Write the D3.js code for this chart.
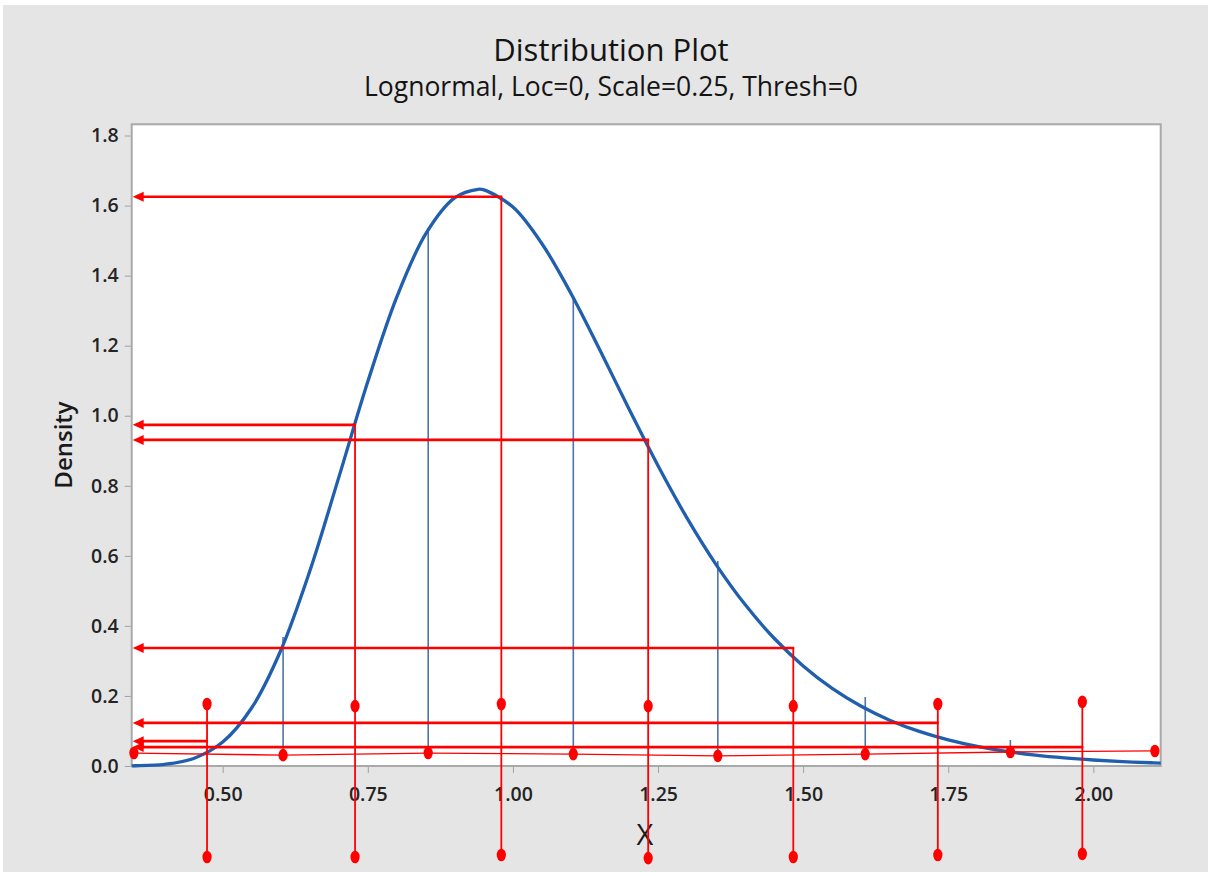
<!DOCTYPE html>
<html>
<head>
<meta charset="utf-8">
<script src="https://cdn.jsdelivr.net/npm/d3@7"></script>
<style>
  body { margin: 0; background: #fff; }
  svg { display: block; font-family: "Open Sans", "Noto Sans", sans-serif; }
</style>
</head>
<body>
<svg id="chart" width="1213" height="876"></svg>
<script>
// Tick values
const xTicks = [0.50, 0.75, 1.00, 1.25, 1.50, 1.75, 2.00];
const yTicks = [0.0, 0.2, 0.4, 0.6, 0.8, 1.0, 1.2, 1.4, 1.6, 1.8];

// Density curve
const curveX = [0.3432, 0.35, 0.40, 0.45, 0.50, 0.55, 0.60, 0.65, 0.70, 0.75, 0.80, 0.85, 0.90, 0.94, 0.95,
  1.00, 1.05, 1.10, 1.15, 1.20, 1.25, 1.30, 1.35, 1.40, 1.45, 1.50, 1.55, 1.60, 1.65, 1.70,
  1.75, 1.80, 1.85, 1.90, 1.95, 2.00, 2.05, 2.10, 2.116];
const curveY = [0.0005, 0.0007, 0.0048, 0.0216, 0.0683, 0.1663, 0.3298, 0.5563, 0.8240, 1.0974, 1.3393, 1.5198, 1.6224, 1.6464, 1.6448,
  1.5958, 1.4911, 1.3490, 1.1869, 1.0193, 0.8572, 0.7077, 0.5751, 0.4608, 0.3647, 0.2856, 0.2215, 0.1704, 0.1301, 0.0987,
  0.0745, 0.0559, 0.0418, 0.0311, 0.0231, 0.0171, 0.0126, 0.0093, 0.0082];

// Blue drop lines
const blueX = [0.604, 0.854, 1.104, 1.353, 1.607, 1.857];
const blueTop = [0.368, 1.536, 1.342, 0.585, 0.197, 0.074];
const blueBase = [0.031, 0.037, 0.037, 0.031, 0.037, 0.040];

// Thin red line through the base dots
const baseDotX = [0.347, 0.604, 0.854, 1.104, 1.353, 1.607, 1.857, 2.106];
const baseDotY = [0.037, 0.031, 0.037, 0.034, 0.029, 0.034, 0.040, 0.043];

// Red sample lines: x position, arrow level, top dot, bottom dot
const sampleX = [0.473, 0.728, 0.980, 1.233, 1.483, 1.732, 1.981];
const arrowY = [0.071, 0.974, 1.625, 0.931, 0.337, 0.123, 0.054];
const topDotY = [0.177, 0.171, 0.177, 0.171, 0.171, 0.177, 0.183];
const bottomDotY = [-0.260, -0.260, -0.254, -0.263, -0.260, -0.254, -0.251];

const svg = d3.select('#chart');

const plotLeft = 131.7, plotRight = 1160.7, plotTop = 124.3, plotBottom = 766;

const x = d3.scaleLinear().domain([0.3432, 2.116]).range([plotLeft, plotRight]);
const y = d3.scaleLinear().domain([0, 1.832]).range([plotBottom, plotTop]);

// Backgrounds
svg.append('rect').attr('x', 3).attr('y', 5).attr('width', 1205).attr('height', 867).attr('fill', '#e5e5e5');
svg.append('rect').attr('x', plotLeft).attr('y', plotTop)
  .attr('width', plotRight - plotLeft).attr('height', plotBottom - plotTop)
  .attr('fill', '#fff').attr('stroke', '#a9a9a9').attr('stroke-width', 2);

// Titles
svg.append('text').attr('x', 611).attr('y', 61).attr('text-anchor', 'middle')
  .attr('font-size', '31px').attr('fill', '#141414').text('Distribution Plot');
svg.append('text').attr('x', 611).attr('y', 96).attr('text-anchor', 'middle')
  .attr('font-size', '26.5px').attr('fill', '#141414').text('Lognormal, Loc=0, Scale=0.25, Thresh=0');

// Axes
const xAxis = svg.append('g').attr('transform', `translate(0,${plotBottom + 1})`)
  .call(d3.axisBottom(x).tickValues(xTicks).tickFormat(d3.format('.2f')).tickSize(6).tickPadding(14));
const yAxis = svg.append('g').attr('transform', `translate(${plotLeft - 1},0)`)
  .call(d3.axisLeft(y).tickValues(yTicks).tickFormat(d3.format('.1f')).tickSize(6).tickPadding(6));
[xAxis, yAxis].forEach(a => {
  a.select('.domain').remove();
  a.selectAll('.tick line').attr('stroke', '#a0a0a0');
  a.selectAll('.tick text').attr('fill', '#242424').style('font-size', '19.5px').style('font-weight', 600)
    .style('font-family', '"Open Sans", "Noto Sans", sans-serif');
});

svg.append('text').attr('transform', 'translate(72,445) rotate(-90)').attr('text-anchor', 'middle')
  .attr('font-size', '24px').attr('font-weight', 600).attr('fill', '#1a1a1a').text('Density');
svg.append('text').attr('x', 645).attr('y', 845).attr('text-anchor', 'middle')
  .attr('font-size', '29px').attr('fill', '#1a1a1a').text('X');

const red = '#ff0000';

// Blue drop lines
svg.selectAll('.drop').data(blueX).enter().append('line')
  .attr('x1', d => x(d)).attr('x2', d => x(d))
  .attr('y1', (d, i) => y(blueBase[i])).attr('y2', (d, i) => y(blueTop[i]))
  .attr('stroke', '#4d74a6').attr('stroke-width', 1.6);

// Density curve
const pts = curveX.map((d, i) => [d, curveY[i]]);
svg.append('path').datum(pts)
  .attr('d', d3.line().x(d => x(d[0])).y(d => y(d[1])).curve(d3.curveCatmullRom.alpha(0.5)))
  .attr('fill', 'none').attr('stroke', '#1f5fae').attr('stroke-width', 3.3);

// Red vertical sample lines
svg.selectAll('.vline').data(sampleX).enter().append('line')
  .attr('x1', d => x(d)).attr('x2', d => x(d))
  .attr('y1', (d, i) => y(bottomDotY[i]))
  .attr('y2', (d, i) => y(Math.max(topDotY[i], arrowY[i])))
  .attr('stroke', red).attr('stroke-width', 1.8);

// Horizontal arrows to the y axis
const tipX = plotLeft + 1;
svg.selectAll('.hline').data(sampleX).enter().append('line')
  .attr('x1', d => x(d) + 1).attr('x2', tipX + 8)
  .attr('y1', (d, i) => y(arrowY[i])).attr('y2', (d, i) => y(arrowY[i]))
  .attr('stroke', red).attr('stroke-width', 2.6);
svg.selectAll('.head').data(arrowY).enter().append('path')
  .attr('d', d => `M${tipX},${y(d)} L${tipX + 11},${y(d) - 5} L${tipX + 11},${y(d) + 5} Z`)
  .attr('fill', red);

// Thin line through base dots
const basePts = baseDotX.map((d, i) => [d, baseDotY[i]]);
svg.append('path').datum(basePts)
  .attr('d', d3.line().x(d => x(d[0])).y(d => y(d[1])))
  .attr('fill', 'none').attr('stroke', red).attr('stroke-width', 1.3);

// Dots
const dot = (cx, cy) => svg.append('ellipse').attr('cx', cx).attr('cy', cy)
  .attr('rx', 4.6).attr('ry', 6.3).attr('fill', red);
baseDotX.forEach((d, i) => dot(x(d), y(baseDotY[i])));
sampleX.forEach((d, i) => {
  dot(x(d), y(topDotY[i]));
  dot(x(d), y(bottomDotY[i]));
});
</script>
</body>
</html>
